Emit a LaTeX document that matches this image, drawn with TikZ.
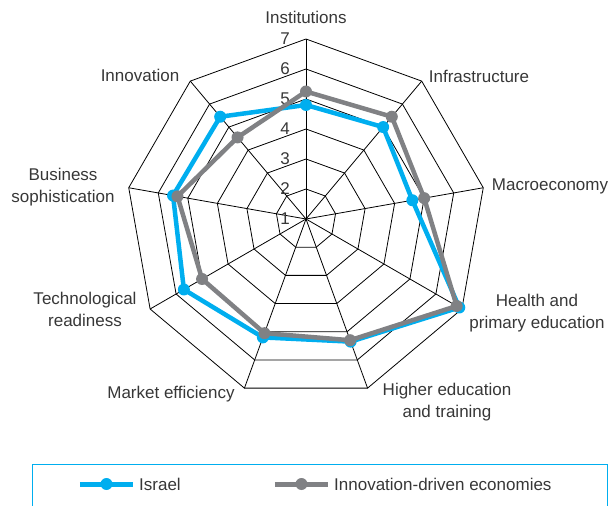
\documentclass[tikz,border=0pt]{standalone}
\usepackage{fontspec}
\setmainfont{Liberation Sans}
\definecolor{israelblue}{RGB}{0,174,239}
\definecolor{innovgray}{RGB}{128,129,132}
\definecolor{labelgray}{RGB}{55,55,55}
\tikzset{
  gridline/.style={black, line width=0.8pt, line join=miter},
  israel/.style={israelblue, line width=4.5pt, line join=round},
  innov/.style={innovgray, line width=4.5pt, line join=round},
  axislabel/.style={labelgray, align=center, inner sep=0pt},
  ticklabel/.style={labelgray, anchor=east, inner sep=0pt},
  legendlabel/.style={labelgray, anchor=west, inner sep=0pt},
  legendbox/.style={israelblue, line width=1pt},
}
\begin{document}
\begin{tikzpicture}[x=1pt, y=1pt, font=\fontsize{17}{22}\selectfont]
      \useasboundingbox (-306,-287) rectangle (308,219);
      \coordinate (o) at (0,0);
      % web
      \foreach \k in {2,...,7}
        \draw[gridline] (90:{(\k-1)*30})
          \foreach \a in {50,10,...,-230} { -- (\a:{(\k-1)*30}) } -- cycle;
      \foreach \a in {90,50,...,-230}
        \draw[gridline] (o) -- (\a:180);
      % scale
      \foreach \k in {1,...,7}
        \node[ticklabel] (t\k) at (-16,{(\k-1)*30}) {\k};
      % pillars
      \node[axislabel] (inst) at (0,202) {Institutions};
      \node[axislabel] (infra) at (173,143) {Infrastructure};
      \node[axislabel] (macro) at (244,33) {Macroeconomy};
      \node[axislabel] (health) at (231,-94) {Health and\\primary education};
      \node[axislabel] (higher) at (141,-183) {Higher education\\and training};
      \node[axislabel] (market) at (-135,-175) {Market efficiency};
      \node[axislabel] (tech) at (-221,-90) {Technological\\readiness};
      \node[axislabel] (busi) at (-243,32) {Business\\sophistication};
      \node[axislabel] (innov) at (-166,144) {Innovation};
      % Israel
      \path
        (90:{(4.8-1)*30}) coordinate (i0)
        (50:{(5.0-1)*30}) coordinate (i1)
        (10:{(4.6-1)*30}) coordinate (i2)
        (-30:{(6.9-1)*30}) coordinate (i3)
        (-70:{(5.35-1)*30}) coordinate (i4)
        (-110:{(5.2-1)*30}) coordinate (i5)
        (-150:{(5.7-1)*30}) coordinate (i6)
        (-190:{(5.5-1)*30}) coordinate (i7)
        (-230:{(5.45-1)*30}) coordinate (i8);
      \draw[israel] (i0) -- (i1) -- (i2) -- (i3) -- (i4) -- (i5) -- (i6) -- (i7) -- (i8) -- cycle;
      \foreach \p in {0,...,8}
        \fill[israelblue] (i\p) circle (6);
      % innovation-driven economies
      \path
        (90:{(5.25-1)*30}) coordinate (g0)
        (50:{(5.45-1)*30}) coordinate (g1)
        (10:{(5.0-1)*30}) coordinate (g2)
        (-30:{(6.8-1)*30}) coordinate (g3)
        (-70:{(5.3-1)*30}) coordinate (g4)
        (-110:{(5.05-1)*30}) coordinate (g5)
        (-150:{(5.0-1)*30}) coordinate (g6)
        (-190:{(5.35-1)*30}) coordinate (g7)
        (-230:{(4.55-1)*30}) coordinate (g8);
      \draw[innov] (g0) -- (g1) -- (g2) -- (g3) -- (g4) -- (g5) -- (g6) -- (g7) -- (g8) -- cycle;
      \foreach \p in {0,...,8}
        \fill[innovgray] (g\p) circle (6);
      % legend
      \draw[legendbox] (-273,-295) |- (301,-245) -- (301,-295);
      \coordinate (la) at (-226,-265);
      \coordinate (lm) at (-199.5,-265);
      \coordinate (lb) at (-173,-265);
      \draw[israel, line width=5pt] (la) -- (lb);
      \fill[israelblue] (lm) circle (6);
      \node[legendlabel] (lisr) at (-167,-265) {Israel};
      \coordinate (ga) at (-31,-265);
      \coordinate (gm) at (-4.5,-265);
      \coordinate (gb) at (22,-265);
      \draw[innov, line width=5pt] (ga) -- (gb);
      \fill[innovgray] (gm) circle (6);
      \node[legendlabel] (linn) at (28,-265) {Innovation-driven economies};
    \end{tikzpicture}
\end{document}
